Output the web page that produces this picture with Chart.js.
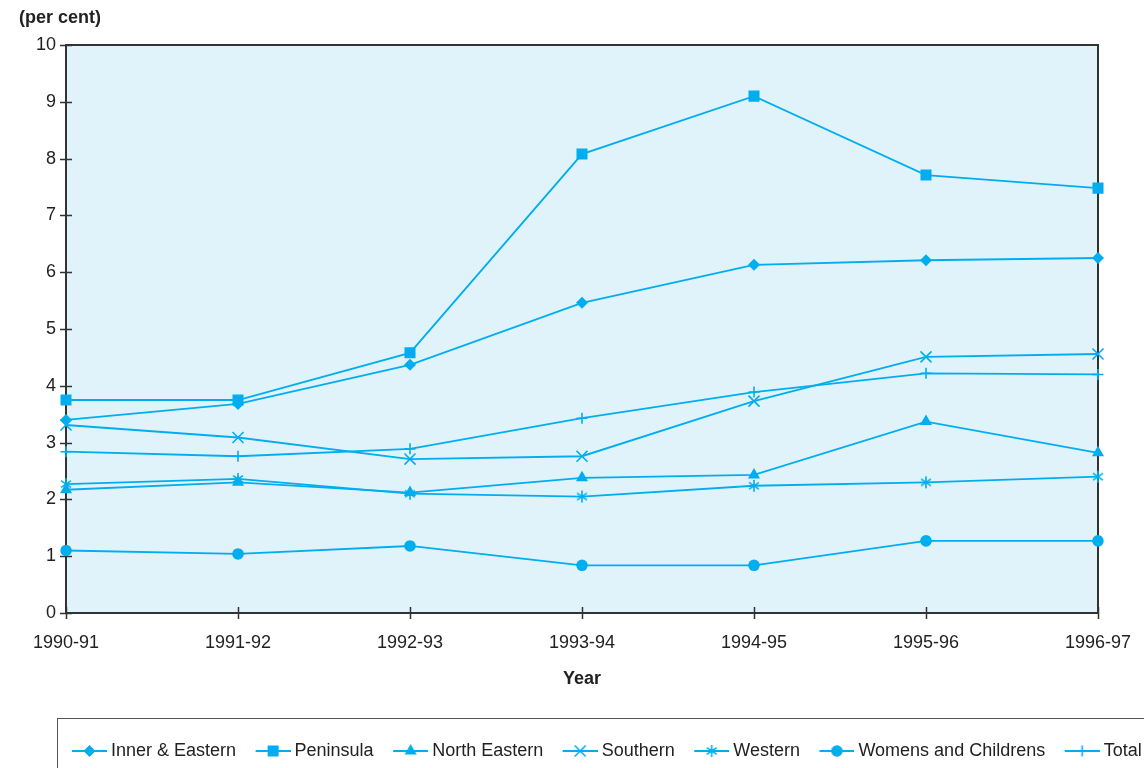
<!DOCTYPE html>
<html>
<head>
<meta charset="utf-8">
<script src="https://cdn.jsdelivr.net/npm/chart.js@4.4.1/dist/chart.umd.min.js"></script>
<style>
  html, body { margin: 0; padding: 0; background: #ffffff; }
  canvas { display: block; }
</style>
</head>
<body>
<canvas id="c" width="1144" height="768"></canvas>
<script>
// ---- data ----
const years = ['1990-91', '1991-92', '1992-93', '1993-94', '1994-95', '1995-96', '1996-97'];
const innerEastern     = [3.40, 3.68, 4.37, 5.46, 6.13, 6.21, 6.25];
const peninsula        = [3.75, 3.75, 4.58, 8.08, 9.10, 7.71, 7.48];
const northEastern     = [2.17, 2.30, 2.12, 2.38, 2.43, 3.37, 2.82];
const southern         = [3.31, 3.09, 2.71, 2.76, 3.73, 4.51, 4.56];
const western          = [2.27, 2.36, 2.10, 2.05, 2.24, 2.30, 2.40];
const womensChildrens  = [1.10, 1.04, 1.18, 0.84, 0.84, 1.27, 1.27];
const total            = [2.84, 2.76, 2.89, 3.43, 3.89, 4.22, 4.20];
const seriesNames = ['Inner & Eastern', 'Peninsula', 'North Eastern', 'Southern', 'Western', 'Womens and Childrens', 'Total'];
const yTicks = [0, 1, 2, 3, 4, 5, 6, 7, 8, 9, 10];
const yUnitLabel = '(per cent)';
const xTitle = 'Year';

// ---- styling ----
const CYAN = '#00aeef';
const FONT = "'Liberation Sans', Arial, Helvetica, sans-serif";
const AXIS = '#333333';

function paintMarker(ctx, kind, cx, cy) {
  ctx.fillStyle = CYAN;
  ctx.strokeStyle = CYAN;
  ctx.lineWidth = 1.6;
  ctx.beginPath();
  switch (kind) {
    case 'rectRot': {
      const r = 6;
      ctx.moveTo(cx - r, cy); ctx.lineTo(cx, cy - r); ctx.lineTo(cx + r, cy); ctx.lineTo(cx, cy + r);
      ctx.closePath(); ctx.fill(); break;
    }
    case 'rect': {
      const s = 5.5;
      ctx.rect(cx - s, cy - s, 2 * s, 2 * s); ctx.fill(); break;
    }
    case 'triangle': {
      const r = 7;
      ctx.moveTo(cx, cy - r);
      ctx.lineTo(cx + r * Math.sin(2 * Math.PI / 3), cy - r * Math.cos(2 * Math.PI / 3));
      ctx.lineTo(cx + r * Math.sin(4 * Math.PI / 3), cy - r * Math.cos(4 * Math.PI / 3));
      ctx.closePath(); ctx.fill(); break;
    }
    case 'crossRot': {
      const r = 5.5;
      ctx.moveTo(cx - r, cy - r); ctx.lineTo(cx + r, cy + r);
      ctx.moveTo(cx + r, cy - r); ctx.lineTo(cx - r, cy + r);
      ctx.stroke(); break;
    }
    case 'star6': {
      const r = 5.5;
      ctx.moveTo(cx, cy - r - 0.5); ctx.lineTo(cx, cy + r + 0.5);
      ctx.moveTo(cx - r * 0.9, cy - r * 0.6); ctx.lineTo(cx + r * 0.9, cy + r * 0.6);
      ctx.moveTo(cx + r * 0.9, cy - r * 0.6); ctx.lineTo(cx - r * 0.9, cy + r * 0.6);
      ctx.stroke(); break;
    }
    case 'circle': {
      ctx.arc(cx, cy, 5.8, 0, Math.PI * 2); ctx.fill(); break;
    }
    case 'cross': {
      const r = 5.5;
      ctx.moveTo(cx, cy - r); ctx.lineTo(cx, cy + r);
      ctx.moveTo(cx - r, cy); ctx.lineTo(cx + r, cy);
      ctx.stroke(); break;
    }
  }
}

function makeStar() {
  const c = document.createElement('canvas');
  c.width = 14; c.height = 14;
  paintMarker(c.getContext('2d'), 'star6', 7, 7);
  return c;
}
function makeLegendIcon(kind) {
  const c = document.createElement('canvas');
  c.width = 40; c.height = 16;
  const g = c.getContext('2d');
  g.strokeStyle = CYAN; g.lineWidth = 1.8;
  g.beginPath(); g.moveTo(5, 8); g.lineTo(40, 8); g.stroke();
  paintMarker(g, kind, 22.5, 8);
  return c;
}
const markerKinds = ['rectRot', 'rect', 'triangle', 'crossRot', 'star6', 'circle', 'cross'];
const legendIcons = markerKinds.map(makeLegendIcon);
const starImg = makeStar();

function ds(label, data, pointStyle, radius, bw) {
  return {
    label, data,
    borderColor: CYAN, backgroundColor: CYAN,
    borderWidth: 1.8,
    pointStyle, pointRadius: radius, pointHoverRadius: radius,
    pointBackgroundColor: CYAN, pointBorderColor: CYAN, pointBorderWidth: bw,
    tension: 0, fill: false
  };
}

const datasets = [
  ds(seriesNames[0], innerEastern, 'rectRot', 6, 0),
  ds(seriesNames[1], peninsula, 'rect', 7.8, 0),
  ds(seriesNames[2], northEastern, 'triangle', 7, 0),
  ds(seriesNames[3], southern, 'crossRot', 7.8, 1.6),
  ds(seriesNames[4], western, starImg, 7, 1.6),
  ds(seriesNames[5], womensChildrens, 'circle', 5.8, 0),
  ds(seriesNames[6], total, 'cross', 5.5, 1.6)
];

const LEGEND_PAD = 19.5;
const LEGEND_FIRST_X = 72;

const frame = {
  id: 'frame',
  afterLayout(chart) {
    const lg = chart.legend;
    const shift = LEGEND_FIRST_X - (lg.left + LEGEND_PAD);
    lg.left += shift;
    lg.right += shift;
  },
  beforeDraw(chart) {
    const {ctx, chartArea: a} = chart;
    ctx.save();
    ctx.fillStyle = '#e0f3fa';
    ctx.fillRect(a.left, a.top, a.right - a.left, a.bottom - a.top);
    ctx.restore();
  },
  beforeDatasetsDraw(chart) {
    const {ctx, chartArea: a} = chart;
    const xs = chart.scales.x, ys = chart.scales.y;
    ctx.save();
    ctx.strokeStyle = AXIS;
    ctx.lineWidth = 2;
    ctx.strokeRect(a.left, a.top, a.right - a.left, a.bottom - a.top);
    ctx.lineWidth = 1.5;
    ctx.beginPath();
    ys.ticks.forEach((t, i) => {
      const y = Math.round(ys.getPixelForTick(i)) + 0.5;
      ctx.moveTo(a.left - 6, y); ctx.lineTo(a.left + 6, y);
    });
    xs.ticks.forEach((t, i) => {
      const x = Math.round(xs.getPixelForTick(i)) + 0.5;
      ctx.moveTo(x, a.bottom - 6); ctx.lineTo(x, a.bottom + 6);
    });
    ctx.stroke();
    ctx.restore();
  },
  afterDraw(chart) {
    const ctx = chart.ctx;
    ctx.save();
    ctx.fillStyle = '#222222';
    ctx.font = 'bold 18px ' + FONT;
    ctx.textAlign = 'left';
    ctx.textBaseline = 'middle';
    ctx.fillText(yUnitLabel, 19, 18);
    ctx.strokeStyle = '#555555';
    ctx.lineWidth = 1;
    ctx.strokeRect(57.5, 718.5, 1200, 200);
    ctx.restore();
  }
};

new Chart(document.getElementById('c'), {
  type: 'line',
  data: { labels: years, datasets },
  options: {
    responsive: false,
    animation: false,
    devicePixelRatio: 1,
    layout: { padding: { top: 45, left: 10, right: -100, bottom: -2 } },
    plugins: {
      title: { display: false },
      tooltip: { enabled: false },
      legend: {
        display: true,
        position: 'bottom',
        align: 'start',
        labels: {
          usePointStyle: true,
          pointStyleWidth: 30,
          boxHeight: 16,
          padding: LEGEND_PAD,
          color: '#222222',
          font: { family: FONT, size: 18 },
          generateLabels(chart) {
            const items = Chart.defaults.plugins.legend.labels.generateLabels(chart);
            return items.map((it, i) => Object.assign(it, { pointStyle: legendIcons[i] }));
          }
        }
      }
    },
    scales: {
      x: {
        type: 'category',
        offset: false,
        grid: { display: false, drawTicks: true, tickLength: 6 },
        border: { display: false },
        ticks: { color: '#222222', font: { family: FONT, size: 18 }, padding: 13, maxRotation: 0, autoSkip: false },
        title: { display: true, text: xTitle, color: '#222222', font: { family: FONT, size: 18, weight: 'bold' }, padding: { top: 0, bottom: 32.7 } },
        afterFit(s) { s.height = 109.5; s.paddingLeft = 0; s.paddingRight = 46; }
      },
      y: {
        min: 0, max: 10,
        grid: { display: false, drawTicks: true, tickLength: 6 },
        border: { display: false },
        afterBuildTicks(s) { s.ticks = yTicks.map(v => ({ value: v })); },
        ticks: { color: '#222222', font: { family: FONT, size: 18 }, padding: 4, stepSize: 1 },
        afterFit(s) { s.width = 56; s.paddingTop = 0; s.paddingBottom = 0; }
      }
    }
  },
  plugins: [frame]
});
</script>
</body>
</html>
